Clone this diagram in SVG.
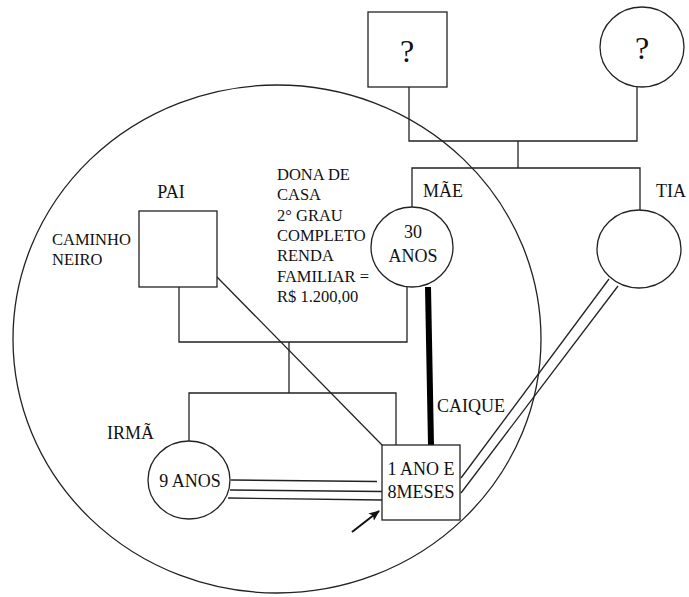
<svg xmlns="http://www.w3.org/2000/svg" width="689" height="597" viewBox="0 0 689 597">
<style>
.s{fill:none;stroke:#222;stroke-width:1.3}
.n{fill:#fff;stroke:#222;stroke-width:1.3}
text{fill:#111;font-size:18px}
.sm{font-size:16.5px}
.q{font-size:32px}
.m{text-anchor:middle}
</style>
<defs>
<marker id="ah" markerWidth="12" markerHeight="12" refX="10" refY="6" orient="auto" markerUnits="userSpaceOnUse">
<path d="M0,1.5 L11,6 L0,10.5 L2.5,6 z" fill="#111"/>
</marker>
</defs>
<ellipse class="s" cx="277" cy="339" rx="264" ry="254"/>
<g id="connectors">
<polyline class="s" points="409,87 409,141 637,141 637,87"/>
<line class="s" x1="518" y1="141" x2="518" y2="168"/>
<polyline class="s" points="412,207 412,168 640,168 640,210"/>
<polyline class="s" points="179,287 179,342 407,342 407,287"/>
<line class="s" x1="289" y1="342" x2="289" y2="393"/>
<polyline class="s" points="189,441 189,393 396,393 396,445"/>
<line class="s" x1="217" y1="277" x2="382" y2="445"/>
<line x1="428" y1="287" x2="431" y2="445" stroke="#000" stroke-width="6"/>
<line class="s" x1="231" y1="480" x2="377" y2="481.5"/>
<line class="s" x1="230" y1="490" x2="382" y2="491.5"/>
<line class="s" x1="228" y1="498" x2="382" y2="500"/>
<line class="s" x1="609" y1="279" x2="461" y2="478"/>
<line class="s" x1="618" y1="286" x2="461" y2="493"/>
<line x1="352" y1="532" x2="379" y2="511" stroke="#111" stroke-width="2" marker-end="url(#ah)"/>
</g>
<g font-family="'Liberation Serif', 'DejaVu Serif', serif">
<g id="avo">
<rect class="n" x="368" y="12" width="79" height="75"/>
<text class="q m" x="407" y="62">?</text>
</g>
<g id="avoa">
<ellipse class="n" cx="642" cy="47" rx="42" ry="40"/>
<text class="q m" x="642" y="59">?</text>
</g>
<g id="pai">
<rect class="n" x="139" y="211" width="78" height="76"/>
<text class="m" x="171" y="198">PAI</text>
<text class="sm" x="52" y="245">CAMINHO</text>
<text class="sm" x="52" y="265">NEIRO</text>
</g>
<g id="mae">
<ellipse class="n" cx="412" cy="247" rx="41" ry="40"/>
<text class="m" x="413" y="238">30</text>
<text class="m" x="413" y="262">ANOS</text>
<text x="423" y="197">MÃE</text>
<text class="sm" x="277" y="180">DONA DE</text>
<text class="sm" x="277" y="200">CASA</text>
<text class="sm" x="277" y="221">2° GRAU</text>
<text class="sm" x="277" y="241">COMPLETO</text>
<text class="sm" x="277" y="261">RENDA</text>
<text class="sm" x="277" y="282">FAMILIAR =</text>
<text class="sm" x="277" y="302">R$ 1.200,00</text>
</g>
<g id="tia">
<ellipse class="n" cx="639" cy="249" rx="42" ry="39"/>
<text x="656" y="197">TIA</text>
</g>
<g id="irma">
<ellipse class="n" cx="189" cy="480" rx="41" ry="39"/>
<text class="m" x="190" y="487">9 ANOS</text>
<text x="107" y="439">IRMÃ</text>
</g>
<g id="caique">
<rect class="n" x="382" y="445" width="78" height="75"/>
<text class="m" x="421" y="475">1 ANO E</text>
<text class="m" x="421" y="498">8MESES</text>
<text x="437" y="412">CAIQUE</text>
</g>
</g>
</svg>
